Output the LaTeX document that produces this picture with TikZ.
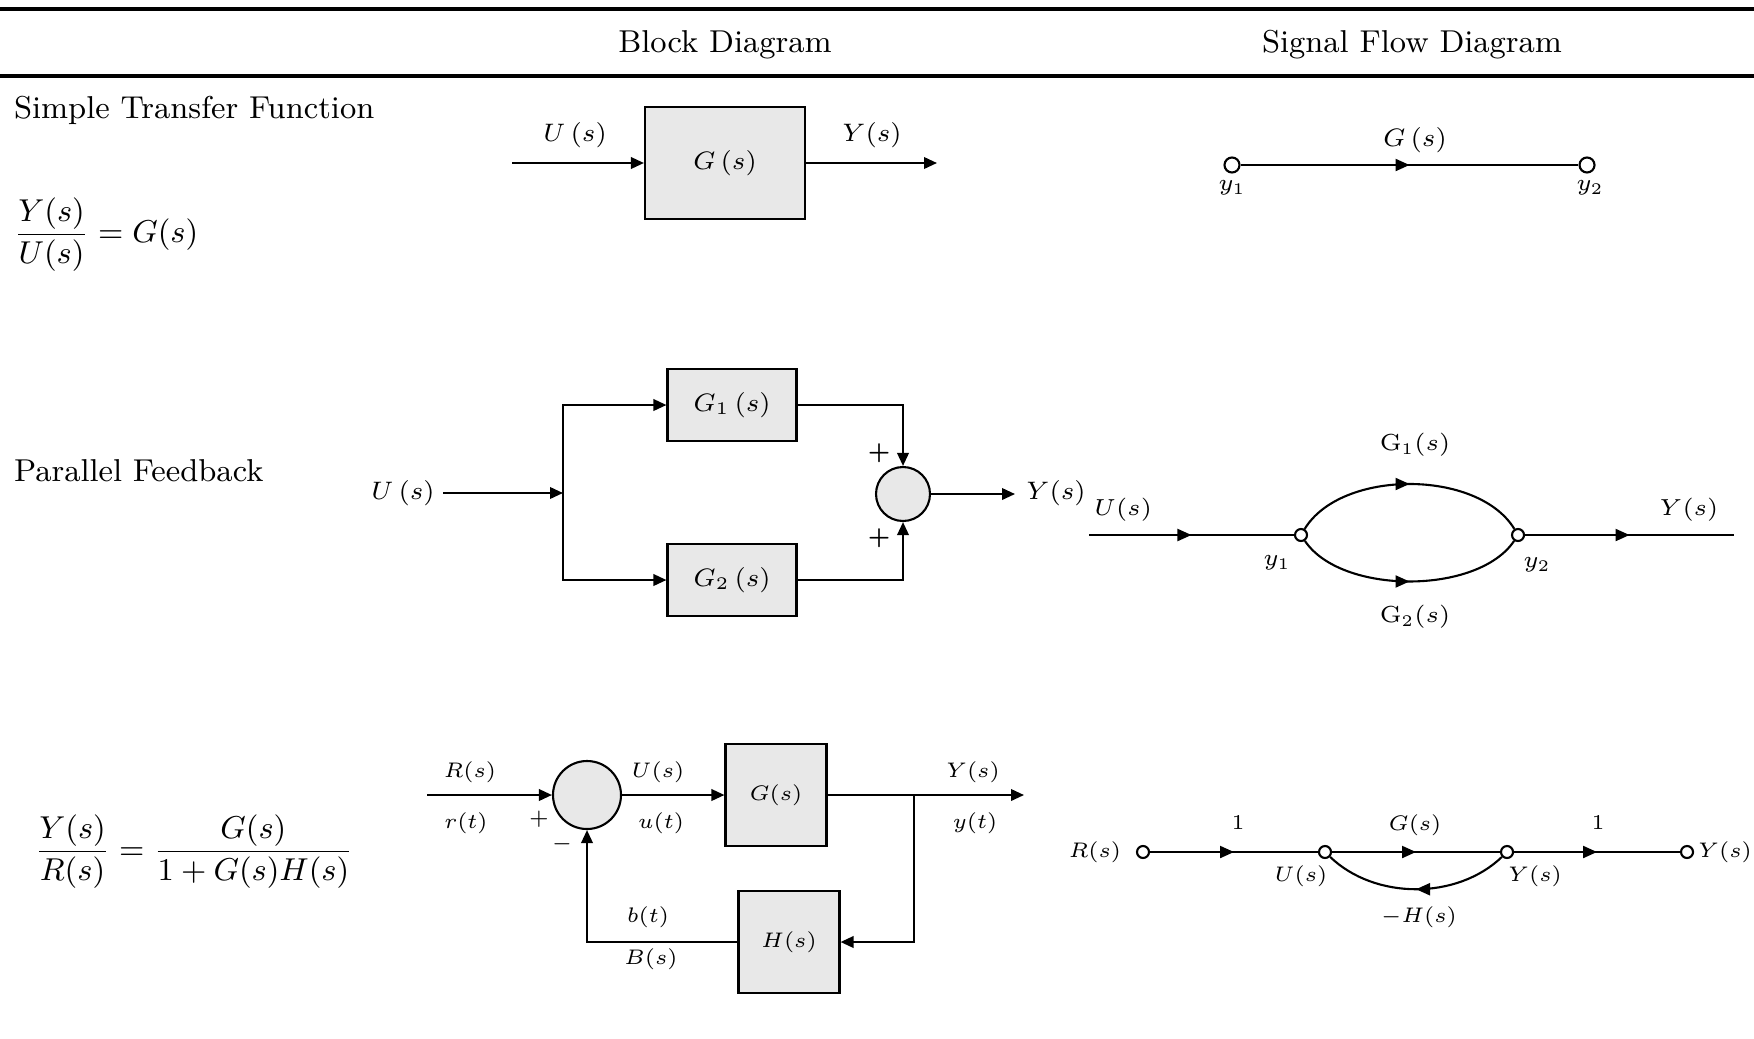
\RequirePackage{fix-cm}
\documentclass[tikz,border=0pt]{standalone}
\usepackage{amsmath}
\usetikzlibrary{arrows.meta,decorations.markings}

\begin{document}
\begin{tikzpicture}[x=0.1mm,y=-0.1mm,>={Triangle[length=1.3mm,width=1.15mm]},line width=0.6pt,
    blk/.style={draw,fill=black!9,inner sep=0pt,font=\fontsize{7.2}{9}\selectfont},
    sum/.style={draw,fill=black!9,circle,inner sep=0pt},
    sfnode/.style={draw,fill=white,circle,inner sep=0pt,minimum size=1.2mm},
    ttl/.style={font=\fontsize{9}{11}\selectfont},
    lbl/.style={font=\fontsize{7.2}{9}\selectfont},
    sflbl/.style={font=\fontsize{6.6}{8}\selectfont},
    slbl/.style={font=\fontsize{6}{7}\selectfont},
    midarrow/.style={postaction={decorate,decoration={markings,
        mark=at position #1 with {\arrow{Triangle[length=1.4mm,width=1.2mm]}}}}},
    midarrow/.default=0.5]
    \useasboundingbox (0,0) rectangle (1754,1038);
    % header rules and titles
    \coordinate (r1l) at (0,9);
    \coordinate (r1r) at (1754,9);
    \coordinate (r2l) at (0,76);
    \coordinate (r2r) at (1754,76);
    \draw[line width=0.9pt] (r1l) -- (r1r);
    \draw[line width=0.9pt] (r2l) -- (r2r);
    \node[ttl] (tblock) at (725,45) {Block Diagram};
    \node[ttl] (tsignal) at (1412,45) {Signal Flow Diagram};
    \node[ttl,anchor=west,inner sep=0pt] (tsimple) at (13,110) {Simple Transfer Function};
    \node[ttl,anchor=west,inner sep=0pt] (eqsimple) at (13,235) {$\displaystyle\frac{Y(s)}{U(s)}=G(s)$};
    \node[ttl,anchor=west,inner sep=0pt] (tparallel) at (13,471) {Parallel Feedback};
    \node[ttl,anchor=west,inner sep=0pt] (eqfeedback) at (34,852) {$\displaystyle\frac{Y(s)}{R(s)}=\frac{G(s)}{1+G(s)H(s)}$};

    % simple transfer function, block diagram
    \node[blk,minimum width=16mm,minimum height=11.2mm] (G) at (725,163) {$G\,(s)$};
    \coordinate (uin) at (512,163);
    \coordinate (yout) at (937,163);
    \draw[->] (uin) -- (G);
    \draw[->] (G) -- (yout);
    \node[lbl] (uinL) at (575,135) {$U\,(s)$};
    \node[lbl] (youtL) at (872,135) {$Y(s)$};

    % simple transfer function, signal flow
    \node[sfnode,minimum size=1.5mm] (y1) at (1232,165) {};
    \node[sfnode,minimum size=1.5mm] (y2) at (1587,165) {};
    \draw[midarrow] (y1) -- (y2);
    \node[lbl] (gL) at (1415,140) {$G\,(s)$};
    \node[sflbl] (y1L) at (1232,188) {$y_1$};
    \node[sflbl] (y2L) at (1590,188) {$y_2$};

    % parallel, block diagram
    \coordinate (pin) at (443,493);
    \coordinate (pbr) at (563,493);
    \coordinate (pout) at (1015,494);
    \node[blk,minimum width=12.9mm,minimum height=7.2mm] (G1) at (732,405) {$G_1\,(s)$};
    \node[blk,minimum width=12.9mm,minimum height=7.2mm] (G2) at (732,580) {$G_2\,(s)$};
    \node[sum,minimum size=5.4mm] (S1) at (903,494) {};
    \draw[->] (pin) -- (pbr);
    \draw[->] (pbr) |- (G1);
    \draw[->] (pbr) |- (G2);
    \draw[->] (G1) -| (S1);
    \draw[->] (G2) -| (S1);
    \draw[->] (S1) -- (pout);
    \node[lbl] (pinL) at (403,493) {$U\,(s)$};
    \node[lbl] (poutL) at (1056,493) {$Y(s)$};
    \node[slbl] (plus1) at (879,453) {$\boldsymbol{+}$};
    \node[slbl] (plus2) at (879,538) {$\boldsymbol{+}$};

    % parallel, signal flow
    \coordinate (qin) at (1089,535);
    \coordinate (qout) at (1734,535);
    \node[sfnode] (q1) at (1301,535) {};
    \node[sfnode] (q2) at (1518,535) {};
    \draw[midarrow] (qin) -- (q1);
    \draw[midarrow] (q1) .. controls +(40,-66) and +(-40,-66) .. (q2);
    \draw[midarrow] (q1) .. controls +(40,60) and +(-40,60) .. (q2);
    \draw[midarrow] (q2) -- (qout);
    \node[sflbl] (qinL) at (1123,510) {$U(s)$};
    \node[sflbl] (qoutL) at (1689,510) {$Y(s)$};
    \node[sflbl] (q1L) at (1277,563) {$y_1$};
    \node[sflbl] (q2L) at (1537,565) {$y_2$};
    \node[sflbl] (qg1L) at (1415,445) {$\mathrm{G}_1(s)$};
    \node[sflbl] (qg2L) at (1415,617) {$\mathrm{G}_2(s)$};

    % feedback, block diagram
    \coordinate (rin) at (427,795);
    \coordinate (fbr) at (914,795);
    \coordinate (fout) at (1024,795);
    \node[sum,minimum size=6.8mm] (S2) at (587,795) {};
    \node[blk,font=\fontsize{6}{7}\selectfont,minimum width=10.1mm,minimum height=10.2mm] (Gf) at (776,795) {$G(s)$};
    \node[blk,font=\fontsize{6}{7}\selectfont,minimum width=10.1mm,minimum height=10.2mm] (H) at (789,942) {$H(s)$};
    \draw[->] (rin) -- (S2);
    \draw[->] (S2) -- (Gf);
    \draw (Gf) -- (fbr);
    \draw[->] (fbr) -- (fout);
    \draw[->] (fbr) |- (H);
    \draw[->] (H) -| (S2);
    \node[slbl] (rsL) at (470,772) {$R(s)$};
    \node[slbl] (rtL) at (466,823) {$r(t)$};
    \node[slbl] (plus3) at (539,819) {$+$};
    \node[slbl] (minus3) at (562,844) {$-$};
    \node[slbl] (usL) at (658,772) {$U(s)$};
    \node[slbl] (utL) at (661,823) {$u(t)$};
    \node[slbl] (ysL) at (973,772) {$Y(s)$};
    \node[slbl] (ytL) at (975,823) {$y(t)$};
    \node[slbl] (btL) at (648,917) {$b(t)$};
    \node[slbl] (bsL) at (651,959) {$B(s)$};

    % feedback, signal flow
    \node[sfnode] (f0) at (1143,852) {};
    \node[sfnode] (f1) at (1325,852) {};
    \node[sfnode] (f2) at (1507,852) {};
    \node[sfnode] (f3) at (1687,852) {};
    \draw[midarrow] (f0) -- (f1);
    \draw[midarrow] (f1) -- (f2);
    \draw[midarrow] (f2) -- (f3);
    \draw[midarrow] (f2) .. controls +(-50,48) and +(50,48) .. (f1);
    \node[slbl] (f0L) at (1095,852) {$R(s)$};
    \node[slbl] (f3L) at (1725,852) {$Y(s)$};
    \node[slbl] (f1L) at (1301,876) {$U(s)$};
    \node[slbl] (f2L) at (1535,876) {$Y(s)$};
    \node[slbl] (one1) at (1238,823) {$1$};
    \node[slbl] (one2) at (1598,823) {$1$};
    \node[slbl] (fgL) at (1415,825) {$G(s)$};
    \node[slbl] (fhL) at (1419,917) {$-H(s)$};
\end{tikzpicture}
\end{document}
